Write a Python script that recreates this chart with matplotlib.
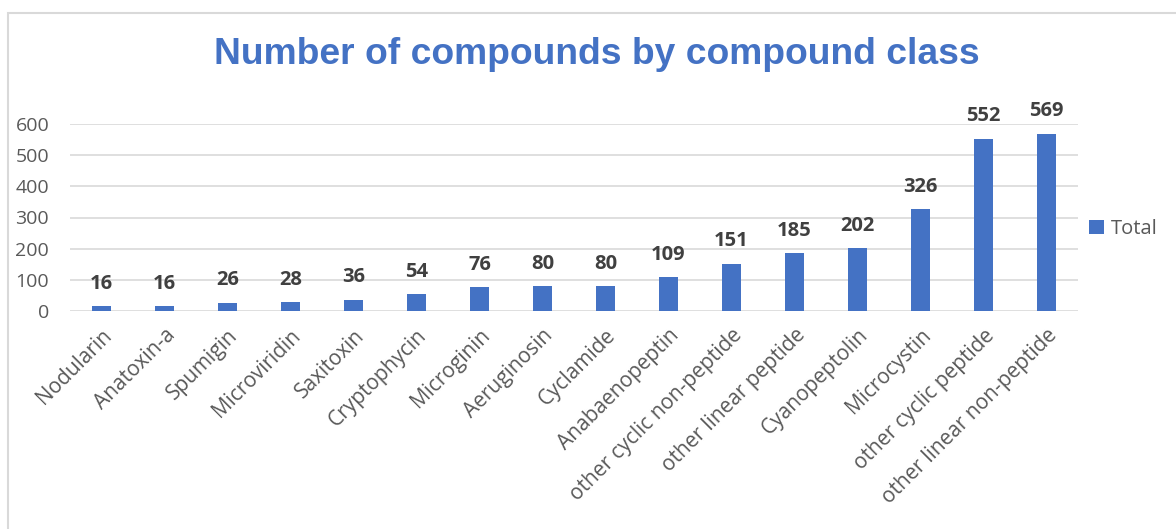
import matplotlib.pyplot as plt
from matplotlib.patches import Rectangle

# dados
categories = ["Nodularin", "Anatoxin-a", "Spumigin", "Microviridin", "Saxitoxin",
              "Cryptophycin", "Microginin", "Aeruginosin", "Cyclamide", "Anabaenopeptin",
              "other cyclic non-peptide", "other linear peptide", "Cyanopeptolin",
              "Microcystin", "other cyclic peptide", "other linear non-peptide"]
totals = [16, 16, 26, 28, 36, 54, 76, 80, 80, 109, 151, 185, 202, 326, 552, 569]
yticks = [0, 100, 200, 300, 400, 500, 600]

blue = "#4472C4"
grey = "#595959"
plt.rcParams['font.family'] = ['Open Sans', 'DejaVu Sans']

fig = plt.figure(figsize=(11.76, 5.29), dpi=100)
ax = fig.add_axes([70 / 1176, 1 - 311 / 529, 1008 / 1176, 187 / 529])

x = range(len(categories))
bars = ax.bar(x, totals, width=0.31, color=blue, label="Total", zorder=3)
for b, v in zip(bars, totals):
    ax.text(b.get_x() + b.get_width() / 2, v + 40, str(v), ha="center", va="bottom",
            fontsize=14.5, fontweight="bold", color="#404040")

ax.set_xlim(-0.5, len(categories) - 0.5)
ax.set_ylim(0, 600)
ax.set_yticks(yticks)
ax.set_yticklabels([str(t) for t in yticks], fontsize=14, color=grey)
ax.yaxis.grid(True, color="#D9D9D9", linewidth=1.2, zorder=0)
ax.tick_params(axis="both", length=0)
ax.tick_params(axis="y", pad=15)
ax.set_xticks(list(x))
ax.set_xticklabels(categories, rotation=45, ha="right", rotation_mode="anchor",
                   fontsize=15, color=grey)
ax.tick_params(axis="x", pad=10)
for s in ax.spines.values():
    s.set_visible(False)

fig.text(597 / 1176, 1 - 55 / 529, "Number of compounds by compound class",
         ha="center", va="center", fontsize=26.8, fontweight="bold", color=blue,
         family=["Liberation Sans", "DejaVu Sans"])

fig.legend(loc="center left", bbox_to_anchor=(1071 / 1176, 1 - 229 / 529), frameon=False,
           fontsize=14.5, handlelength=0.75, handleheight=0.75, handletextpad=0.35,
           labelcolor=grey)

# moldura do gráfico
fig.patches.append(Rectangle((8 / 1176, -0.1), 1.2, 1 - 13 / 529 + 0.1,
                             transform=fig.transFigure, fill=False,
                             edgecolor="#D9D9D9", linewidth=1.5))

fig.savefig("out.png", dpi=100)
